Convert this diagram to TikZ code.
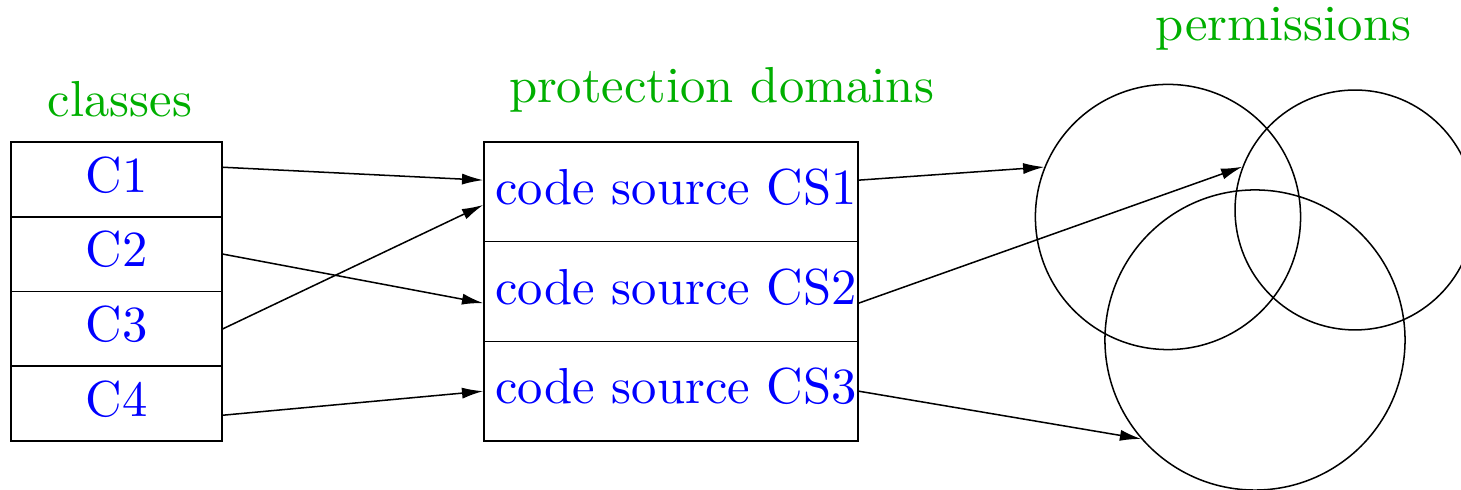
\documentclass[tikz,border=0pt]{standalone}
\usetikzlibrary{arrows.meta,calc}
\definecolor{lblgreen}{RGB}{0,175,0}
\definecolor{txtblue}{RGB}{0,0,255}
\begin{document}
\begin{tikzpicture}[x=0.1976pt,y=-0.1976pt,
  line width=0.3pt,
  classrow/.style={draw, rectangle, inner sep=0pt, minimum width=41.7pt, minimum height=14.77pt,
    text=txtblue, text height=7pt, text depth=2pt},
  domrow/.style={draw, rectangle, inner xsep=0.2pt, inner ysep=0pt, minimum width=73.9pt, minimum height=19.7pt,
    text width=73.5pt, align=right,
    text=txtblue, text height=7pt, text depth=2pt},
  title/.style={text=lblgreen, anchor=base, inner sep=0pt},
  perm/.style={draw, circle, inner sep=0pt},
  conn/.style={-{Latex[length=4.2pt,width=2.2pt]}}
]
\useasboundingbox (0,0) rectangle (1461,490);

% titles
\node[title] (tclasses) at (120,117) {classes};
\node[title] (tdomains) at (721.5,103) {protection domains};
\node[title] (tperms) at (1283.5,41) {permissions};

% classes
\node[classrow] (c1) at (116.5,179.4) {C1};
\node[classrow] (c2) at (116.5,254.1) {C2};
\node[classrow] (c3) at (116.5,328.9) {C3};
\node[classrow] (c4) at (116.5,403.6) {C4};

% protection domains
\node[domrow] (d1) at (671,191.8) {code source CS1};
\node[domrow] (d2) at (671,291.5) {code source CS2};
\node[domrow] (d3) at (671,391.2) {code source CS3};

% permissions
\node[perm, minimum size=52.4pt] (p1) at (1168,217) {};
\node[perm, minimum size=47.4pt] (p2) at (1355,210) {};
\node[perm, minimum size=59.3pt] (p3) at (1255,340) {};

% class -> domain
\draw[conn] ([yshift=2.4pt]c1.east) -- ([yshift=2.3pt]d1.west);
\draw[conn] (c2.east) -- ([yshift=-2.3pt]d2.west);
\draw[conn] (c3.east) -- ([yshift=-2.6pt]d1.west);
\draw[conn] ([yshift=-2.3pt]c4.east) -- (d3.west);

% domain -> permissions
\draw[conn] ([yshift=2.3pt]d1.east) -- (p1.158.2);
\draw[conn] ([yshift=-2.3pt]d2.east) -- (p2.159.4);
\draw[conn] (d3.east) -- (p3.221.5);
\end{tikzpicture}
\end{document}
